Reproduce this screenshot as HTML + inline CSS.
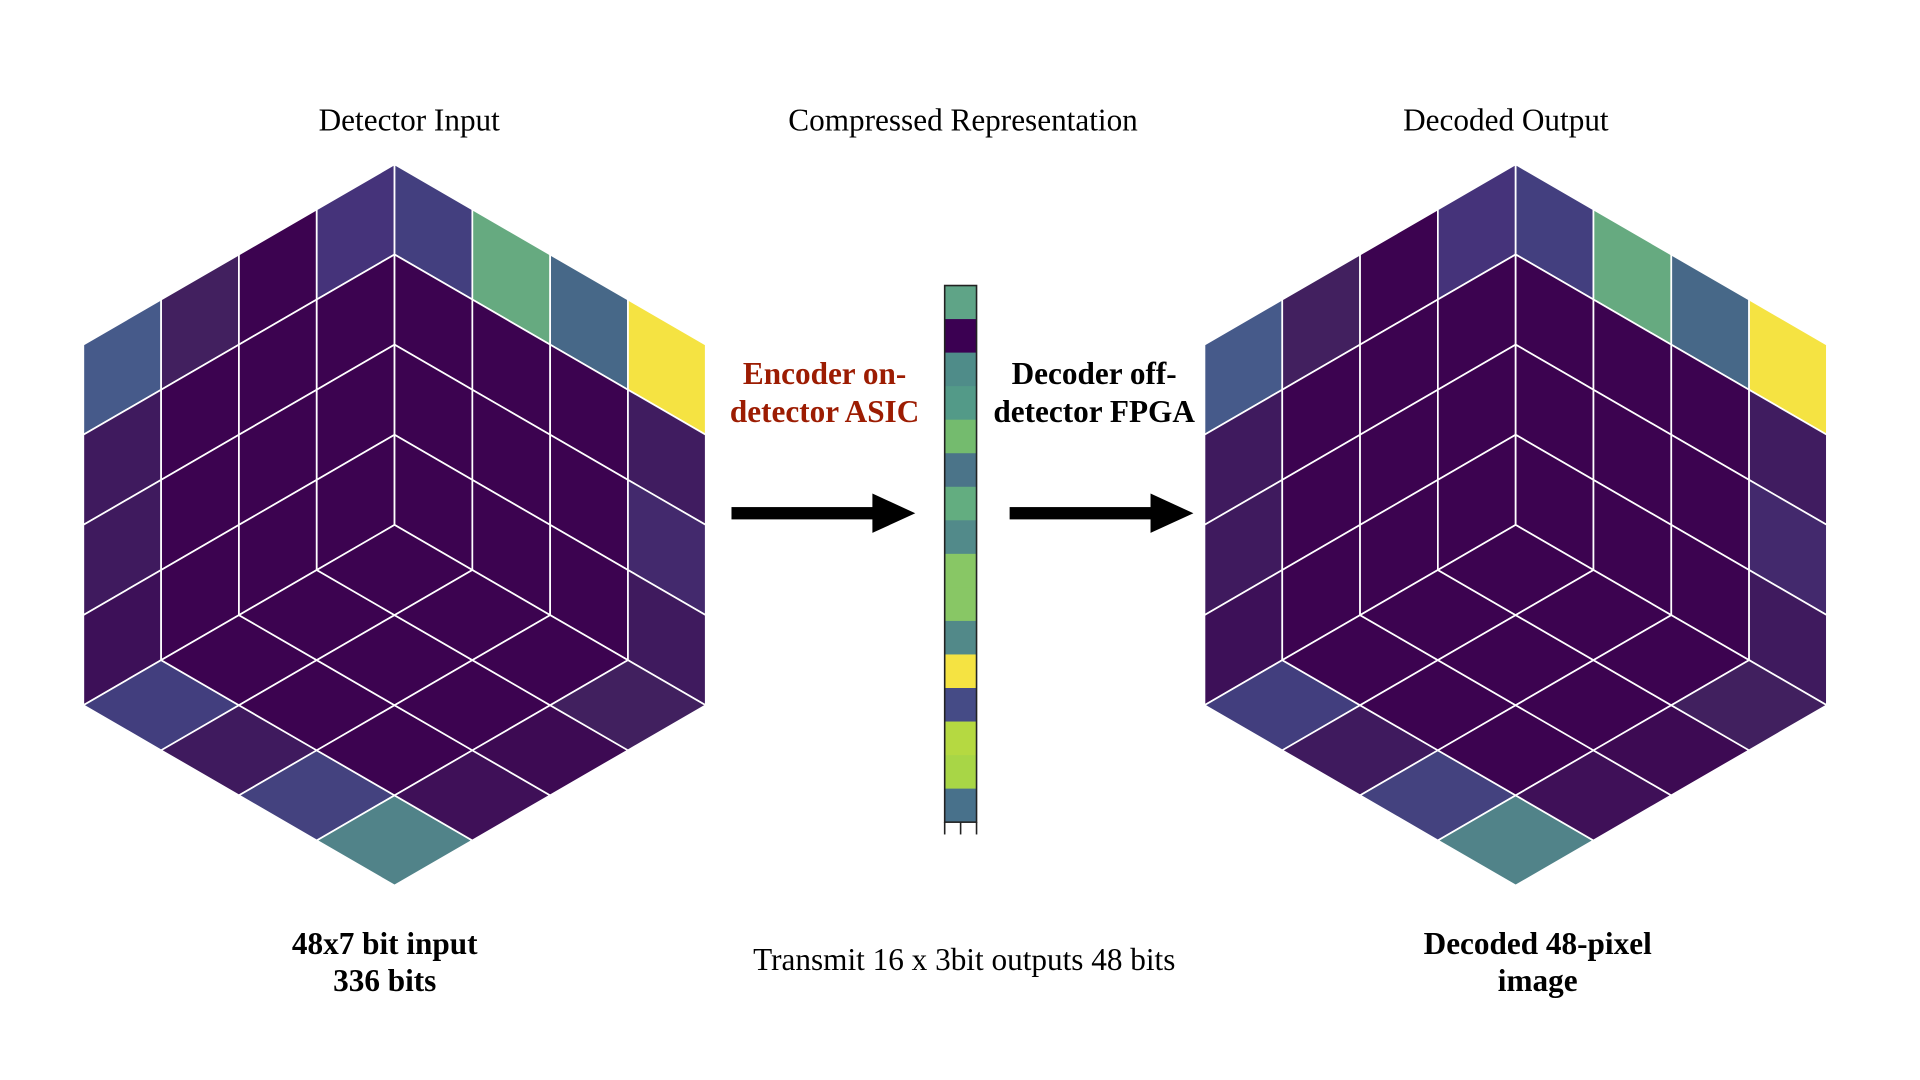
<!DOCTYPE html>
<html><head><meta charset="utf-8">
<style>
html,body{margin:0;padding:0;background:#fff;width:1920px;height:1080px;overflow:hidden}
svg{display:block}
text{font-family:"Liberation Serif",serif}
</style></head>
<body>
<svg id="fig" width="1920" height="1080" viewBox="0 0 1567 877.5" preserveAspectRatio="none" xmlns="http://www.w3.org/2000/svg">
<g id="hexL"></g>
<g id="hexR"></g>
<g id="bar"></g>
<text x="334" y="106" font-size="25.5" text-anchor="middle">Detector Input</text>
<text x="786" y="106" font-size="25.5" text-anchor="middle">Compressed Representation</text>
<text x="1229" y="106" font-size="25.5" text-anchor="middle">Decoded Output</text>
<text x="673" y="312" font-size="25.5" font-weight="bold" fill="#9c1c02" text-anchor="middle"><tspan x="673">Encoder on-</tspan><tspan x="673" dy="31">detector ASIC</tspan></text>
<text x="893" y="312" font-size="25.5" font-weight="bold" fill="#000" text-anchor="middle"><tspan x="893">Decoder off-</tspan><tspan x="893" dy="31">detector FPGA</tspan></text>
<g><rect x="597" y="412" width="118" height="10" fill="#000"/><polygon points="712,401 747,417 712,433" fill="#000"/></g>
<g><rect x="824" y="412" width="118" height="10" fill="#000"/><polygon points="939,401 974,417 939,433" fill="#000"/></g>
<text x="314" y="775" font-size="25.5" font-weight="bold" text-anchor="middle"><tspan x="314">48x7 bit input</tspan><tspan x="314" dy="30">336 bits</tspan></text>
<text x="787" y="788" font-size="25.5" text-anchor="middle">Transmit 16 x 3bit outputs 48 bits</text>
<text x="1255" y="775" font-size="25.5" font-weight="bold" text-anchor="middle"><tspan x="1255">Decoded 48-pixel</tspan><tspan x="1255" dy="30">image</tspan></text>
</svg>
<script>
// pixel colour data: [col][row]
const K='#3c0350';
const leftFaceIn=[['#465a8a','#3f1a5e','#3f1a5e','#3d1058'],['#42205f',K,K,K],[K,K,K,K],['#45337a',K,K,K]];
const rightFaceIn=[['#433f7f',K,K,K],['#66aa80',K,K,K],['#476888',K,K,K],['#f5e342','#401c60','#43296d','#3f1a5e']];
const bottomFaceIn=[['#423e7e','#3f1a5e','#44427f','#518389'],[K,K,K,'#3f1058'],[K,K,K,'#3d0a53'],[K,K,K,'#41205f']];
const leftFaceOut=[['#465a8a','#3f1a5e','#3f1a5e','#3d1058'],['#42205f',K,K,K],[K,K,K,K],['#45337a',K,K,K]];
const rightFaceOut=[['#433f7f',K,K,K],['#66aa80',K,K,K],['#476888',K,K,K],['#f5e342','#401c60','#43296d','#3f1a5e']];
const bottomFaceOut=[['#423e7e','#3f1a5e','#44427f','#518389'],[K,K,K,'#3f1058'],[K,K,K,'#3d0a53'],[K,K,K,'#41205f']];
const latentColors=['#5fa487','#3b0052','#4f8c89','#539a88','#74bb6e','#4b7489','#63ad80','#528a8a','#88c765','#88c765','#528989','#f5e342','#454b86','#b5d941','#a8d646','#48718b'];

const NS='http://www.w3.org/2000/svg';
function drawHex(g,cx,faces,prefix){
  const w=254,top=133.5,s=293;
  const A=[cx-w,top+s/2],B=[cx,top],C=[cx,top+s],D=[cx-w,top+1.5*s],E=[cx+w,top+s/2],F=[cx+w,top+1.5*s],G=[cx,top+2*s];
  const defs=[[A,B,D],[B,E,C],[D,C,G]];
  defs.forEach((d,fi)=>{
    const [O,U,V]=d, du=[U[0]-O[0],U[1]-O[1]], dv=[V[0]-O[0],V[1]-O[1]];
    const P=(u,v)=>[O[0]+du[0]*u+dv[0]*v,O[1]+du[1]*u+dv[1]*v];
    for(let i=0;i<4;i++)for(let j=0;j<4;j++){
      const pts=[P(i/4,j/4),P((i+1)/4,j/4),P((i+1)/4,(j+1)/4),P(i/4,(j+1)/4)];
      const p=document.createElementNS(NS,'polygon');
      p.setAttribute('points',pts.map(q=>q[0].toFixed(2)+','+q[1].toFixed(2)).join(' '));
      p.setAttribute('fill',faces[fi][i][j]);
      p.setAttribute('stroke','#fff');p.setAttribute('stroke-width','1.4');
      
      
      g.appendChild(p);
    }
  });
}
drawHex(document.getElementById('hexL'),322,[leftFaceIn,rightFaceIn,bottomFaceIn],'input');
drawHex(document.getElementById('hexR'),1237,[leftFaceOut,rightFaceOut,bottomFaceOut],'output');

const bar=document.getElementById('bar');
const bx=771,by=232,bw=26,bh=436,ch=bh/latentColors.length;
latentColors.forEach((c,i)=>{
  const r=document.createElementNS(NS,'rect');
  r.setAttribute('x',bx);r.setAttribute('y',by+i*ch);r.setAttribute('width',bw);r.setAttribute('height',ch+0.3);
  r.setAttribute('fill',c);
  
  
  bar.appendChild(r);
});
const frame=document.createElementNS(NS,'rect');
frame.setAttribute('x',bx);frame.setAttribute('y',by);frame.setAttribute('width',bw);frame.setAttribute('height',bh);
frame.setAttribute('fill','none');frame.setAttribute('stroke','#222');frame.setAttribute('stroke-width','1.3');


bar.appendChild(frame);
[bx,bx+bw/2,bx+bw].forEach(x=>{
  const l=document.createElementNS(NS,'line');
  l.setAttribute('x1',x);l.setAttribute('x2',x);l.setAttribute('y1',by+bh);l.setAttribute('y2',by+bh+10);
  l.setAttribute('stroke','#222');l.setAttribute('stroke-width','1.3');
  
  
  bar.appendChild(l);
});
</script>
</body></html>
